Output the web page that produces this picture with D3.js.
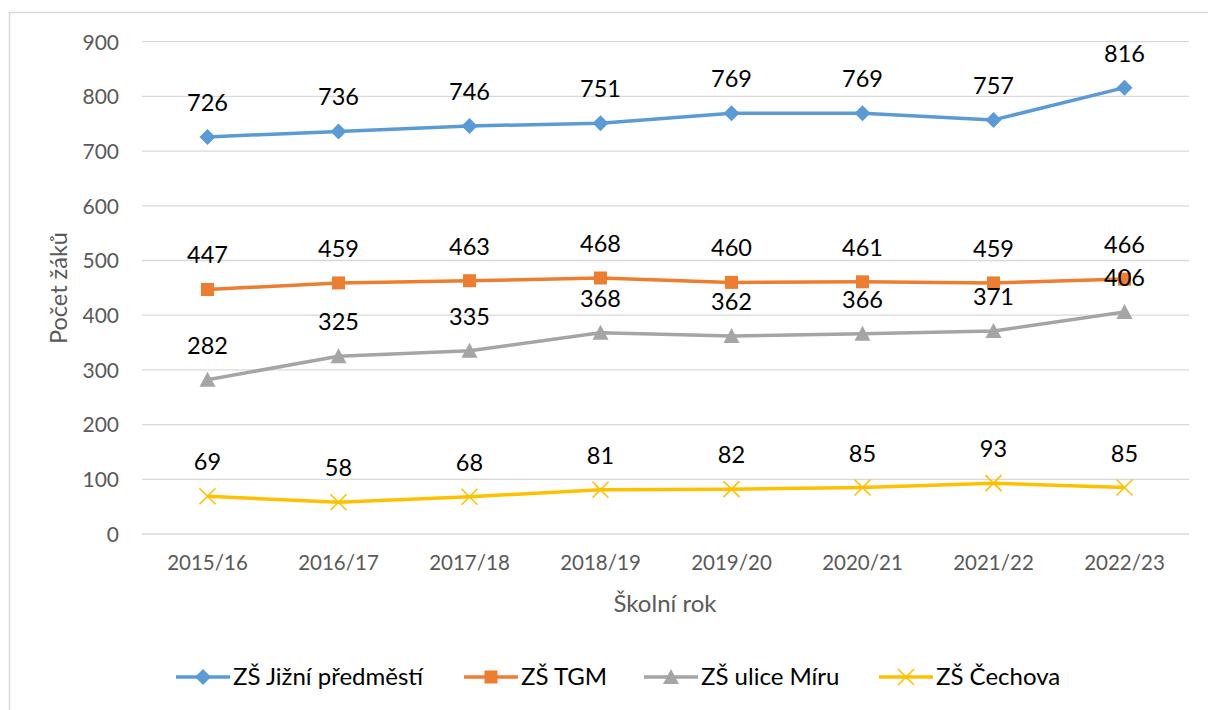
<!DOCTYPE html>
<html><head><meta charset="utf-8">
<script src="https://cdn.jsdelivr.net/npm/d3@7"></script>
<style>body{margin:0;background:#fff}svg{display:block;font-family:Lato,"Open Sans",sans-serif}</style>
</head><body><svg id="c" width="1208" height="710"></svg>
<script>
const categories = ["2015/16","2016/17","2017/18","2018/19","2019/20","2020/21","2021/22","2022/23"];
const seriesNames = ["ZŠ Jižní předměstí","ZŠ TGM","ZŠ ulice Míru","ZŠ Čechova"];
const jizni = [726,736,746,751,769,769,757,816];
const tgm = [447,459,463,468,460,461,459,466];
const miru = [282,325,335,368,362,366,371,406];
const cechova = [69,58,68,81,82,85,93,85];
const yTicks = [0,100,200,300,400,500,600,700,800,900];
const colors = ["#5B9BD5","#ED7D31","#A5A5A5","#FFC000"];
const markers = ["diamond","square","triangle","x"];
const series = [jizni,tgm,miru,cechova].map((v,i)=>({name:seriesNames[i],values:v,color:colors[i],marker:markers[i]}));

const svg = d3.select("#c");
svg.append("rect").attr("x",9.5).attr("y",12.5).attr("width",1300).attr("height",800)
  .attr("fill","none").attr("stroke","#d9d9d9").attr("stroke-width",1.5);

const L=142,R=1190,T=41.7,B=534;
const x = d3.scaleBand().domain(categories).range([L,R]);
const y = d3.scaleLinear().domain([0,900]).range([B,T]);

const g = svg.append("g");
g.selectAll(".grid").data(yTicks).join("line")
  .attr("x1",L).attr("x2",R-1).attr("y1",d=>y(d)).attr("y2",d=>y(d))
  .attr("stroke","#d9d9d9").attr("stroke-width",1.3);

const yAxis = g.append("g").attr("transform",`translate(${L},0)`).call(d3.axisLeft(y).tickValues(yTicks).tickSize(0).tickPadding(23));
yAxis.select(".domain").remove();
yAxis.selectAll("text").attr("font-size",21).attr("fill","#595959").attr("font-family","Lato").attr("dy","0.35em");

const xAxis = g.append("g").attr("transform",`translate(0,${B})`).call(d3.axisBottom(x).tickSize(0).tickPadding(21));
xAxis.select(".domain").remove();
xAxis.selectAll("text").attr("font-size",20.5).attr("fill","#595959").attr("font-family","Lato");

svg.append("text").attr("x",665).attr("y",612).attr("text-anchor","middle").attr("font-size",24).attr("fill","#595959").text("Školní rok");
svg.append("text").attr("transform","translate(67,288) rotate(-90)").attr("text-anchor","middle").attr("font-size",23.5).attr("fill","#595959").text("Počet žáků");

const cx = d=>x(d)+x.bandwidth()/2;
const line = d3.line().x((d,i)=>cx(categories[i])).y(d=>y(d));

function drawMarker(sel, type, color){
  if(type==="diamond") sel.append("path").attr("d","M0,-8L8,0L0,8L-8,0Z").attr("fill",color);
  else if(type==="square") sel.append("rect").attr("x",-6.5).attr("y",-6.5).attr("width",13).attr("height",13).attr("fill",color);
  else if(type==="triangle") sel.append("path").attr("d","M0,-8L8,7L-8,7Z").attr("fill",color);
  else sel.append("path").attr("d","M-8,-8L8,8M-8,8L8,-8").attr("stroke",color).attr("stroke-width",1.6).attr("fill","none");
}

series.forEach(s=>{
  g.append("path").attr("d",line(s.values)).attr("fill","none").attr("stroke",s.color).attr("stroke-width",3.5).attr("stroke-linejoin","round");
  s.values.forEach((v,i)=>{
    const m = g.append("g").attr("transform",`translate(${cx(categories[i])},${y(v)})`);
    drawMarker(m,s.marker,s.color);
  });
});
series.forEach(s=>{
  s.values.forEach((v,i)=>{
    g.append("text").attr("x",cx(categories[i])).attr("y",y(v)-26).attr("text-anchor","middle")
      .attr("font-size",23.5).attr("fill","#000").text(v);
  });
});

// legend
const legX = [176,464,644,879];
series.forEach((s,i)=>{
  const lg = svg.append("g").attr("transform",`translate(${legX[i]},677)`);
  lg.append("line").attr("x1",0).attr("x2",54).attr("y1",0).attr("y2",0).attr("stroke",s.color).attr("stroke-width",3.5);
  const m = lg.append("g").attr("transform","translate(27,0)");
  drawMarker(m,s.marker,s.color);
  lg.append("text").attr("x",57).attr("y",0).attr("dy","0.35em").attr("font-size",24).attr("fill","#000").text(s.name);
});
</script></body></html>
